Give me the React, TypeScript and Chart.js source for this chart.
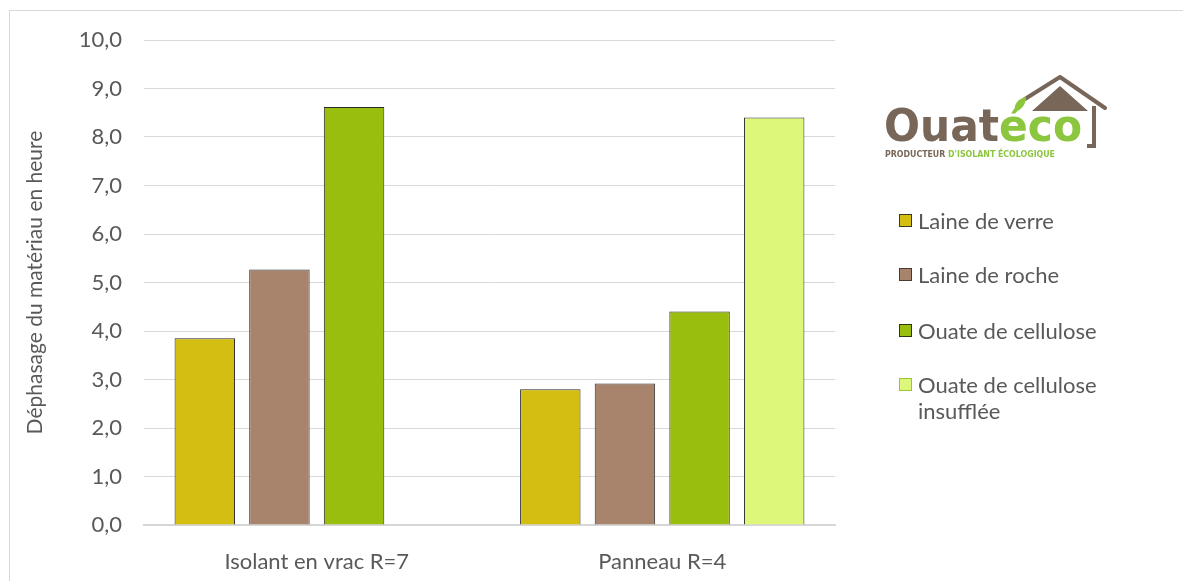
import React, { useEffect, useRef } from "react";
import { Chart, registerables } from "chart.js";

Chart.register(...registerables);

const categories = ["Isolant en vrac R=7", "Panneau R=4"];
const seriesNames = ["Laine de verre", "Laine de roche", "Ouate de cellulose", "Ouate de cellulose insufflée"];
const laineDeVerre = [3.85, 2.8];
const laineDeRoche = [5.27, 2.92];
const ouateDeCellulose = [8.62, 4.4];
const ouateInsufflee: (number | null)[] = [null, 8.4];
const seriesColors = ["#D5BE12", "#A9846D", "#99BE0E", "#DCF77A"];
const legendBorders = ["#3a3a2a", "#4a3a30", "#2a3a10", "#9CC23A"];
const yTitle = "Déphasage du matériau en heure";

const FONT = "Lato, 'Open Sans', sans-serif";
const TEXT = "#595959";

export default function App() {
  const ref = useRef<HTMLCanvasElement | null>(null);

  useEffect(() => {
    if (!ref.current) return;
    const values = [laineDeVerre, laineDeRoche, ouateDeCellulose, ouateInsufflee];
    const chart = new Chart(ref.current, {
      type: "bar",
      data: {
        labels: categories,
        datasets: values.map((v, i) => ({
          label: seriesNames[i],
          data: v,
          backgroundColor: seriesColors[i],
          borderColor: "#2b2b2b",
          borderWidth: 1,
          barPercentage: 0.81,
          categoryPercentage: 0.864,
        })),
      },
      options: {
        animation: false,
        responsive: true,
        maintainAspectRatio: false,
        layout: { padding: { left: 10, right: 348, top: 40, bottom: 0 } },
        plugins: { legend: { display: false }, tooltip: { enabled: false } },
        scales: {
          x: {
            grid: { display: false },
            border: { display: true, color: "#d6d6d6", width: 2 },
            ticks: { color: TEXT, font: { family: FONT, size: 22 }, padding: 16 },
            afterFit: (s: any) => { s.height = 56; },
          },
          y: {
            min: 0,
            max: 10,
            ticks: {
              stepSize: 1,
              color: TEXT,
              font: { family: FONT, size: 22 },
              padding: 22,
              callback: (v: any) => Number(v).toFixed(1).replace(".", ","),
            },
            grid: { color: "#d9d9d9", lineWidth: 1, drawTicks: false },
            border: { display: false },
            title: {
              display: true,
              text: yTitle,
              color: TEXT,
              font: { family: FONT, size: 21 },
              padding: { top: 13, bottom: 0 },
            },
            afterFit: (s: any) => { s.width = 134; },
          },
        },
      },
    });
    return () => chart.destroy();
  }, []);

  const legendTops = [221, 275, 331, 385];

  return (
    <div style={{ position: "fixed", left: 0, top: 0, width: 1183, height: 581, background: "#fff", overflow: "hidden" }}>
      <div style={{ position: "absolute", left: 9, top: 10, width: 1300, height: 700, borderLeft: "1px solid #d9d9d9", borderTop: "1px solid #d9d9d9" }} />
      <div style={{ position: "absolute", left: 0, top: 0, width: 1183, height: 581 }}>
        <canvas ref={ref} />
      </div>
      {seriesNames.map((name, i) => {
        const lines = i === 3 ? ["Ouate de cellulose", "insufflée"] : [name];
        return (
          <div key={name}>
            <div style={{ position: "absolute", left: 899, top: legendTops[i] - 7, width: 11, height: 11, background: seriesColors[i], border: `1px solid ${legendBorders[i]}` }} />
            {lines.map((ln, j) => (
              <div key={ln} style={{ position: "absolute", left: 918, top: legendTops[i] - 13 + j * 26, height: 26, lineHeight: "26px", fontFamily: FONT, fontSize: 22, color: TEXT, whiteSpace: "nowrap" }}>{ln}</div>
            ))}
          </div>
        );
      })}
      <svg style={{ position: "absolute", left: 0, top: 0 }} width={1183} height={581}>
        <polyline points="1025,99 1060,77 1105,108" fill="none" stroke="#786659" strokeWidth={4} strokeLinejoin="round" strokeLinecap="round" />
        <polyline points="1094,106 1094,146 1087,146" fill="none" stroke="#786659" strokeWidth={4} />
        <polygon points="1032,111 1060,86 1088,111" fill="#786659" />
        <path d="M1015,112 C1013,104 1019,98 1026,97 C1026,105 1021,110 1015,112 Z" fill="#8cc63f" />
        <text x={884} y={141} fontFamily="'DejaVu Sans', sans-serif" fontWeight={700} fontSize={44} textLength={198} lengthAdjust="spacingAndGlyphs">
          <tspan fill="#786659">Ouat</tspan>
          <tspan fill="#8cc63f">éco</tspan>
        </text>
        <text x={885} y={157} fontFamily="'DejaVu Sans', sans-serif" fontWeight={700} fontSize={8} textLength={170} lengthAdjust="spacingAndGlyphs">
          <tspan fill="#786659">PRODUCTEUR </tspan>
          <tspan fill="#8cc63f">D'ISOLANT ÉCOLOGIQUE</tspan>
        </text>
      </svg>
    </div>
  );
}
